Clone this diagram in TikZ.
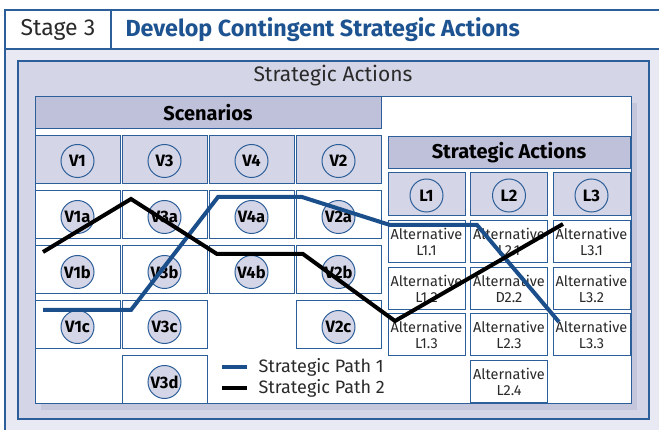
\documentclass[tikz,border=0pt]{standalone}
\usepackage{fontspec}
\setmainfont{Fira Sans}
\begin{document}
\definecolor{frameblue}{HTML}{2C5E99}
\definecolor{pathblue}{HTML}{1B4F8B}
\definecolor{titleblue}{HTML}{1D5390}
\definecolor{outerbg}{HTML}{E9E9F3}
\definecolor{boxbg}{HTML}{D4D5E6}
\definecolor{headbg}{HTML}{BFC1DA}
\definecolor{shadowbg}{HTML}{C4C6DC}
\definecolor{txt}{HTML}{2A2A2A}
\begin{tikzpicture}[x=1pt,y=-1pt,
  frame/.style={draw=frameblue,line width=1.2pt},
  cell/.style={draw=frameblue,line width=1pt,anchor=north west,inner sep=0pt,outer sep=0pt},
  vhead/.style={cell,fill=boxbg,minimum width=85pt,minimum height=48pt},
  vcell/.style={cell,fill=white,minimum width=85pt,minimum height=48pt},
  lhead/.style={cell,fill=boxbg,minimum width=77pt,minimum height=43pt},
  lcell/.style={cell,fill=white,minimum width=77pt,minimum height=42pt,
    font=\fontsize{14.5}{15.5}\selectfont,text=txt,align=center},
  badge/.style={circle,draw=frameblue,line width=1pt,fill=boxbg,minimum size=33pt,
    inner sep=0pt,font=\bfseries\fontsize{16.5}{16.5}\selectfont,text=black},
  bar/.style={cell,fill=headbg,font=\bfseries\fontsize{20}{20}\selectfont,text=black},
  pathone/.style={draw=pathblue,line width=4pt,line join=miter},
  pathtwo/.style={draw=black,line width=4pt,line join=miter},
  legtext/.style={anchor=west,font=\fontsize{18}{18}\selectfont,text=txt}
]
\useasboundingbox (0,0) rectangle (659,430);
\clip (0,0) rectangle (659,430);

% outer stage frame and title row
\fill[outerbg] (5,49) rectangle (680,450);
\fill[white] (5,10) rectangle (680,49);
\draw[frame] (5,450) -- (5,10) -- (680,10);
\draw[frame] (5,49) -- (680,49);
\draw[frame] (111,10) -- (111,49);
\node[font=\fontsize{23}{23}\selectfont,text=txt] (stage) at (58,30) {Stage 3};
\node[anchor=west,font=\bfseries\fontsize{23.3}{23.3}\selectfont,text=titleblue] (title) at (122,30)
  {Develop Contingent Strategic Actions};

% strategic actions container
\node[cell,frame,fill=boxbg,minimum width=631pt,minimum height=358pt] (container) at (18,61) {};
\node[font=\fontsize{21}{21}\selectfont,text=txt] (contlabel) at (333,76) {Strategic Actions};

% white panel with its drop shadow
\fill[shadowbg] (41,103) rectangle (637,410);
\node[cell,fill=white,minimum width=596pt,minimum height=307pt] (panel) at (35,97) {};

% scenarios header
\node[bar,minimum width=346pt,minimum height=32pt] (scen) at (35,97) {Scenarios};

% scenario grid
\foreach \col/\x in {V1/35,V3/122,V4/209,V2/296}{
  \node[vhead] (h\col) at (\x,136) {};
  \node[badge] (c\col) at ([yshift=-1pt]h\col.center) {\col};
}
\foreach \name/\x/\y in {V1a/35/191,V1b/35/246,V1c/35/301,
                         V3a/122/191,V3b/122/246,V3c/122/301,V3d/122/356,
                         V4a/209/191,V4b/209/246,
                         V2a/296/191,V2b/296/246,V2c/296/301}{
  \node[vcell] (b\name) at (\x,\y) {};
  \node[badge] (c\name) at ([yshift=-2pt]b\name.center) {\name};
}

% strategic actions header and grid
\node[bar,minimum width=242pt,minimum height=32pt] (acts) at (388,137) {Strategic Actions};
\foreach \col/\x in {L1/388,L2/470.5,L3/553}{
  \node[lhead] (h\col) at (\x,173) {};
  \node[badge] (c\col) at ([yshift=-1pt]h\col.center) {\col};
}
\foreach \name/\lab/\x/\y in {a11/L1.1/388/221,a12/L1.2/388/268,a13/L1.3/388/314,
                              a21/L2.1/470.5/221,a22/D2.2/470.5/268,a23/L2.3/470.5/314,a24/L2.4/470.5/361,
                              a31/L3.1/553/221,a32/L3.2/553/268,a33/L3.3/553/314}{
  \node[lcell] (\name) at (\x,\y) {Alternative\\\lab};
}

% strategic paths
\coordinate (p1s) at (43,310);
\coordinate (p1a) at (131,310);
\coordinate (p1b) at (218,197);
\coordinate (p1c) at (302,197);
\coordinate (p1d) at (390,225);
\coordinate (p1e) at (477,225);
\coordinate (p1f) at (559,322);
\draw[pathone] (p1s) -- (p1a) -- (p1b) -- (p1c) -- (p1d) -- (p1e) -- (p1f);

\coordinate (p2s) at (43,252);
\coordinate (p2a) at (131,199);
\coordinate (p2b) at (217,254);
\coordinate (p2c) at (303,254);
\coordinate (p2d) at (395,321);
\coordinate (p2e) at (563,224);
\draw[pathtwo] (p2s) -- (p2a) -- (p2b) -- (p2c) -- (p2d) -- (p2e);

% legend
\coordinate (l1a) at (222,367);
\coordinate (l1b) at (247,367);
\coordinate (l2a) at (222,388);
\coordinate (l2b) at (247,388);
\draw[draw=pathblue,line width=4pt] (l1a) -- (l1b);
\draw[draw=black,line width=4pt] (l2a) -- (l2b);
\node[legtext] (leg1) at (255,367) {Strategic Path 1};
\node[legtext] (leg2) at (255,388) {Strategic Path 2};
\end{tikzpicture}
\end{document}
